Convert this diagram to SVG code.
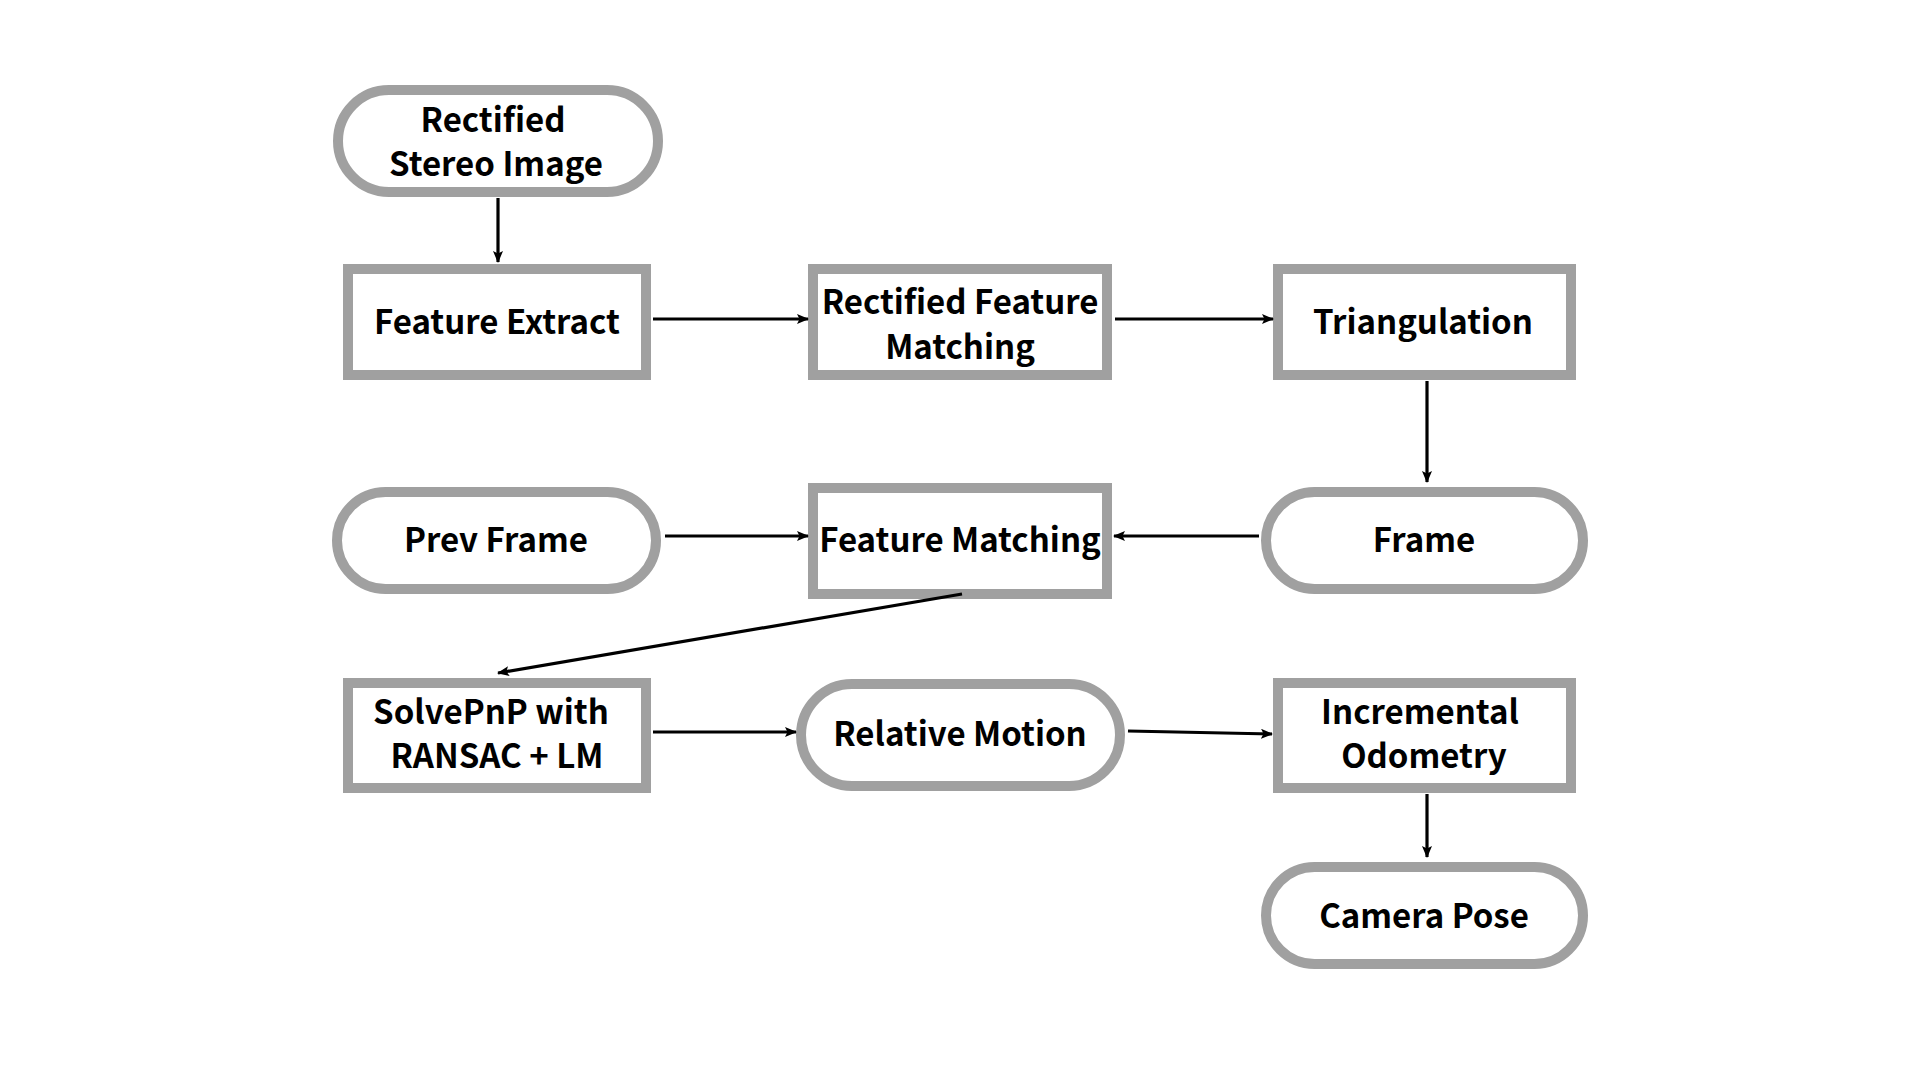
<svg xmlns="http://www.w3.org/2000/svg" width="1920" height="1080" viewBox="0 0 1920 1080">
<style>
.n{fill:#fff;stroke:#a0a0a0;stroke-width:10}
.t{font-family:"Noto Sans CJK KR","Noto Sans",sans-serif;font-weight:700;font-size:33px;fill:#000;text-anchor:middle}
.c{stroke:#000;stroke-width:3.2;fill:none;marker-end:url(#ah)}
</style>
<defs>
<marker id="ah" viewBox="0 0 12 10" refX="11" refY="5" markerWidth="12" markerHeight="10" markerUnits="userSpaceOnUse" orient="auto">
<path d="M0,0 L12,5 L0,10 L2.5,5 Z" fill="#000"/>
</marker>
</defs>
<rect width="1920" height="1080" fill="#fff"/>
<g id="n1"><rect class="n" x="338" y="90" width="320" height="102" rx="51"/>
<text class="t" x="493" y="132">Rectified</text><text class="t" x="496" y="176">Stereo Image</text></g>
<g id="n2"><rect class="n" x="348" y="269" width="298" height="106"/>
<text class="t" x="497" y="334">Feature Extract</text></g>
<g id="n3"><rect class="n" x="813" y="269" width="294" height="106"/>
<text class="t" x="960" y="314">Rectified Feature</text><text class="t" x="960" y="359">Matching</text></g>
<g id="n4"><rect class="n" x="1278" y="269" width="293" height="106"/>
<text class="t" x="1423" y="334">Triangulation</text></g>
<g id="n5"><rect class="n" x="337" y="492" width="319" height="97" rx="48.5"/>
<text class="t" x="496" y="552">Prev Frame</text></g>
<g id="n6"><rect class="n" x="813" y="488" width="294" height="106"/>
<text class="t" x="960" y="552">Feature Matching</text></g>
<g id="n7"><rect class="n" x="1266" y="492" width="317" height="97" rx="48.5"/>
<text class="t" x="1424" y="552">Frame</text></g>
<g id="n8"><rect class="n" x="348" y="683" width="298" height="105"/>
<text class="t" x="491" y="724">SolvePnP with</text><text class="t" x="497" y="768">RANSAC + LM</text></g>
<g id="n9"><rect class="n" x="801" y="684" width="319" height="102" rx="51"/>
<text class="t" x="960" y="746">Relative Motion</text></g>
<g id="n10"><rect class="n" x="1278" y="683" width="293" height="105"/>
<text class="t" x="1420" y="724">Incremental</text><text class="t" x="1424" y="768">Odometry</text></g>
<g id="n11"><rect class="n" x="1266" y="867" width="317" height="97" rx="48.5"/>
<text class="t" x="1424" y="928">Camera Pose</text></g>
<g id="connectors">
<line class="c" x1="498" y1="198" x2="498" y2="262"/>
<line class="c" x1="653" y1="319" x2="808" y2="319"/>
<line class="c" x1="1115" y1="319" x2="1273" y2="319"/>
<line class="c" x1="1427" y1="381" x2="1427" y2="482"/>
<line class="c" x1="1259" y1="536" x2="1114" y2="536"/>
<line class="c" x1="665" y1="536" x2="808" y2="536"/>
<line class="c" x1="962" y1="594" x2="498" y2="673"/>
<line class="c" x1="653" y1="732" x2="796" y2="732"/>
<line class="c" x1="1128" y1="731" x2="1272" y2="734"/>
<line class="c" x1="1427" y1="794" x2="1427" y2="857"/>
</g>
</svg>
